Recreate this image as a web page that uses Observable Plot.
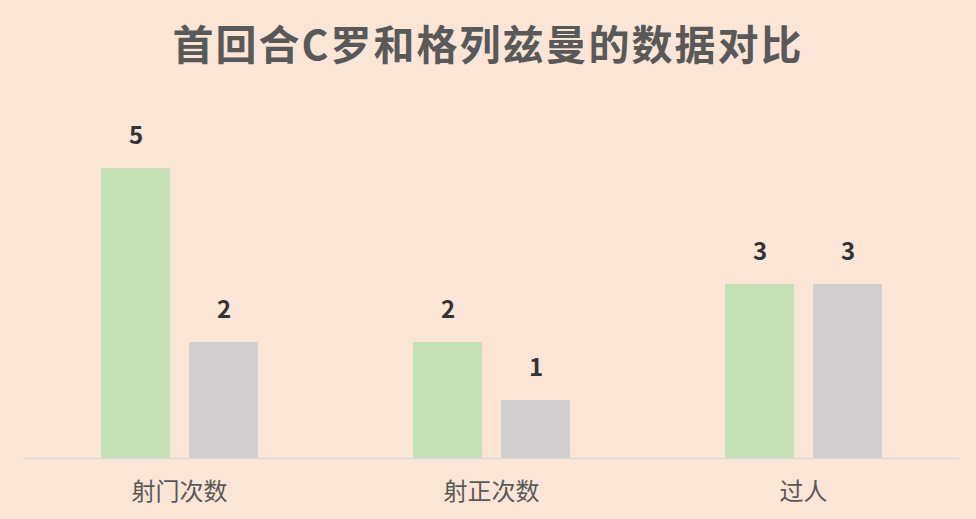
<!DOCTYPE html>
<html><head><meta charset="utf-8">
<script src="https://cdn.jsdelivr.net/npm/d3@7"></script>
<script src="https://cdn.jsdelivr.net/npm/@observablehq/plot@0.6"></script>
<style>
html,body{margin:0;padding:0;background:#FBE5D6;width:976px;height:519px;overflow:hidden;}
#title{height:85px;line-height:84px;text-align:center;font-family:"Noto Sans CJK SC",sans-serif;font-weight:700;font-size:41px;color:#595959;letter-spacing:2px;}
</style></head><body>
<div id="title">首回合C罗和格列兹曼的数据对比</div>
<div id="chart"></div>
<script>
const categories = ["射门次数", "射正次数", "过人"];
const players = ["C罗", "格列兹曼"];
const ronaldo = [5, 2, 3];
const griezmann = [2, 1, 3];
const colors = ["#C5E0B4", "#D0CECE"];

const data = [];
categories.forEach((c, i) => {
  data.push({cat: c, player: players[0], value: ronaldo[i]});
  data.push({cat: c, player: players[1], value: griezmann[i]});
});

const chart = Plot.plot({
  width: 976,
  height: 434,
  marginLeft: 23,
  marginRight: 17,
  marginTop: 83,
  marginBottom: 61,
  style: {background: "transparent", fontFamily: "'Noto Sans CJK SC', sans-serif"},
  fx: {domain: categories, padding: 0, label: null},
  x: {domain: players, paddingInner: 0.216, paddingOuter: 0.875, axis: null},
  y: {domain: [0, 5], axis: null},
  color: {domain: players, range: colors},
  axis: null,
  marks: [
    Plot.barY(data, {fx: "cat", x: "player", y: "value", fill: "player"}),
    Plot.ruleY([0], {stroke: "#D9D9D9", strokeWidth: 1.5}),
    Plot.text(data, {fx: "cat", x: "player", y: "value", text: d => String(d.value), dy: -32, fontSize: 24, fontWeight: 700, fill: "#333333"}),
    Plot.axisFx({anchor: "bottom", tickSize: 0, tickPadding: 24, fontSize: 24, color: "#595959", label: null})
  ]
});
document.getElementById("chart").appendChild(chart);
</script>
</body></html>
